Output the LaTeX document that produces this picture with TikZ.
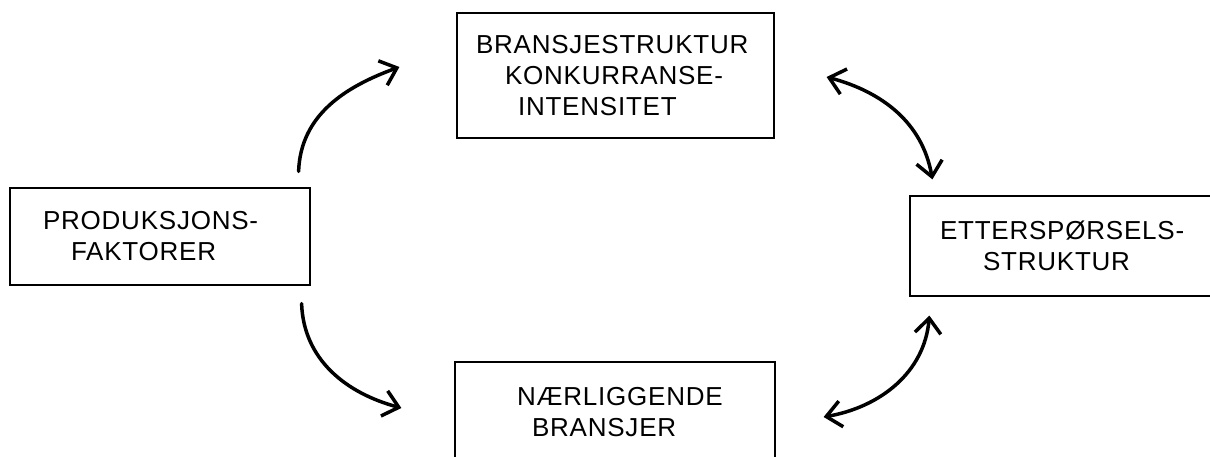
\documentclass[tikz,border=0pt]{standalone}
\usepackage{fontspec}
\setmainfont{Liberation Sans}[LetterSpace=3]
\usepackage{tikz}
\usetikzlibrary{arrows.meta}
\tikzstyle{block}=[rectangle, draw, line width=1.2pt, inner sep=0pt,
                   align=left, font=\fontsize{26}{31}\selectfont]
\tikzstyle{link}=[line width=3.5pt, line cap=round,
                  arrows={-Straight Barb[length=15pt,width=26pt]}]
\tikzstyle{every picture}=[x=1pt,y=1pt]

\begin{document}
\begin{tikzpicture}
      \useasboundingbox (0,0) rectangle (1210,457);
      \clip (0,0) rectangle (1210,457);
      \node[block, minimum width=300, minimum height=97, text width=300]
	(prod) at (160,220.5)
	{\hspace*{33pt}PRODUKSJONS-\\ \hspace*{61pt}FAKTORER};
      \node[block, minimum width=317, minimum height=125, text width=317]
	(branse) at (615.5,381.5)
	{\hspace*{19pt}BRANSJESTRUKTUR\\ \hspace*{48pt}KONKURRANSE-\\ \hspace*{61pt}INTENSITET};
      \node[block, minimum width=305, minimum height=100, text width=305]
	(ettersp) at (1062.5,211)
	{\hspace*{30pt}ETTERSPØRSELS-\\ \hspace*{73pt}STRUKTUR};
      \node[block, minimum width=320, minimum height=100, text width=320]
	(naer) at (615,45)
	{\hspace*{62pt}NÆRLIGGENDE\\ \hspace*{77pt}BRANSJER};
	\draw[link] ([xshift=-12pt,yshift=16pt]prod.north east)
	  to[out=88, in=200] ([xshift=-57pt,yshift=8.5pt]branse.west);
	\draw[link] ([xshift=-9pt,yshift=-18pt]prod.south east)
	  to[out=-88, in=165] ([xshift=-53pt,yshift=4pt]naer.west);
	\draw[link, arrows={Straight Barb[length=15pt,width=26pt]-Straight Barb[length=15pt,width=26pt]}]
	  ([xshift=52pt,yshift=-1.5pt]branse.east)
	  to[out=-15, in=100] ([xshift=23pt,yshift=16pt]ettersp.north west);
	\draw[link, arrows={Straight Barb[length=15pt,width=26pt]-Straight Barb[length=15pt,width=26pt]}]
	  ([xshift=20pt,yshift=-19pt]ettersp.south west)
	  to[out=-95, in=10] ([xshift=48pt,yshift=-5pt]naer.east);
\end{tikzpicture}
\end{document}
